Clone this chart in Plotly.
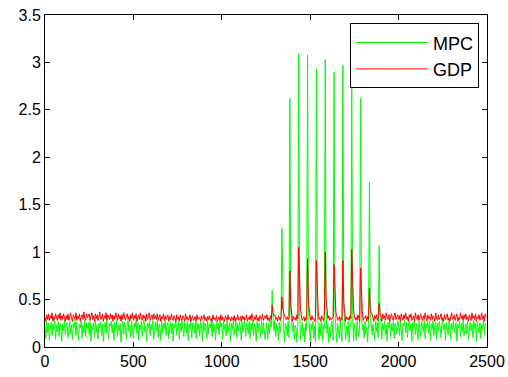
import plotly.graph_objects as go

step = 5  # sample spacing of the listed values

mpc_base = [
    0.22,0.09,0.27,0.15,0.25,0.07,0.21,0.26,0.12,0.24,0.18,0.28,0.08,0.23,0.16,0.27,0.11,0.25,0.20,0.06,0.24,0.17,0.28,0.13,0.22,
    0.26,0.10,0.19,0.27,0.14,0.23,0.08,0.25,0.21,0.28,0.12,0.26,0.17,0.07,0.24,0.20,0.27,0.09,0.23,0.15,0.28,0.11,0.25,0.19,0.26,
    0.13,0.27,0.06,0.22,0.18,0.26,0.10,0.28,0.16,0.23,0.08,0.25,0.20,0.27,0.12,0.24,0.06,0.21,0.26,0.14,0.28,0.18,0.09,0.25,0.22,
    0.27,0.15,0.24,0.07,0.26,0.19,0.28,0.11,0.23,0.17,0.25,0.05,0.22,0.27,0.13,0.26,0.20,0.08,0.24,0.28,0.16,0.23,0.10,0.27,0.18,
    0.09,0.25,0.21,0.28,0.14,0.26,0.07,0.23,0.19,0.27,0.11,0.24,0.28,0.16,0.22,0.06,0.25,0.20,0.27,0.12,0.24,0.18,0.28,0.08,0.23,
    0.26,0.17,0.28,0.10,0.24,0.21,0.07,0.27,0.15,0.25,0.19,0.28,0.12,0.23,0.26,0.09,0.22,0.27,0.14,0.25,0.06,0.24,0.20,0.28,0.13,
    0.21,0.27,0.08,0.25,0.16,0.28,0.20,0.11,0.26,0.23,0.14,0.27,0.07,0.24,0.19,0.28,0.10,0.25,0.22,0.15,0.27,0.09,0.26,0.18,0.24,
    0.12,0.26,0.23,0.06,0.28,0.17,0.25,0.21,0.09,0.27,0.14,0.24,0.20,0.28,0.11,0.26,0.16,0.23,0.07,0.27,0.19,0.25,0.13,0.28,0.21,
    0.25,0.08,0.27,0.18,0.24,0.12,0.28,0.15,0.22,0.26,0.06,0.25,0.19,0.27,0.13,0.23,0.28,0.10,0.24,0.17,0.26,0.21,0.07,0.27,0.15,
    0.23,0.28,0.11,0.26,0.20,0.14,0.27,0.09,0.25,0.18,0.28,0.12,0.24,0.21,0.06,0.27,0.16,0.25,0.22,0.10,0.28,0.14,0.26,0.19,0.08,
    0.19,0.26,0.08,0.24,0.14,0.27,0.21,0.06,0.23,0.17,0.28,0.11,0.25,0.20,0.07,0.26,0.15,0.24,0.09,0.27,0.18,0.05,0.25,0.22,0.12,
    0.27,0.10,0.21,0.06,0.25,0.16,0.26,0.08,0.23,0.19,0.05,0.27,0.13,0.24,0.07,0.22,0.26,0.11,0.20,0.05,0.25,0.17,0.09,0.27,0.14,
    0.06,0.24,0.18,0.27,0.09,0.22,0.05,0.26,0.15,0.21,0.08,0.25,0.12,0.27,0.06,0.23,0.19,0.07,0.26,0.14,0.24,0.05,0.21,0.10,0.27,
    0.23,0.07,0.26,0.13,0.20,0.05,0.25,0.17,0.09,0.27,0.15,0.06,0.24,0.19,0.26,0.08,0.22,0.12,0.27,0.05,0.21,0.25,0.10,0.18,0.06,
    0.25,0.15,0.07,0.27,0.20,0.11,0.24,0.06,0.26,0.18,0.23,0.09,0.27,0.14,0.21,0.05,0.25,0.19,0.08,0.26,0.13,0.24,0.17,0.07,0.27,
    0.16,0.26,0.10,0.24,0.21,0.28,0.08,0.25,0.18,0.27,0.13,0.23,0.06,0.26,0.20,0.28,0.11,0.24,0.17,0.27,0.09,0.25,0.22,0.14,0.28,
    0.24,0.12,0.27,0.19,0.07,0.25,0.22,0.28,0.15,0.26,0.10,0.23,0.27,0.17,0.24,0.06,0.26,0.20,0.28,0.13,0.25,0.18,0.08,0.27,0.21,
    0.11,0.27,0.23,0.16,0.28,0.09,0.25,0.20,0.26,0.14,0.27,0.07,0.24,0.19,0.28,0.12,0.23,0.26,0.08,0.25,0.17,0.27,0.21,0.10,0.26,
    0.28,0.18,0.24,0.07,0.26,0.21,0.13,0.27,0.23,0.09,0.25,0.19,0.28,0.15,0.22,0.26,0.06,0.24,0.20,0.27,0.11,0.25,0.16,0.28,0.12,
    0.20,0.25,0.14,0.27,0.08,0.23,0.26,0.17,0.24,0.10,0.28,0.19,0.25,0.06,0.27,0.21,0.15,0.26,0.09,0.24,0.18,0.28,0.13,0.25,0.22,
]

gdp_base = [
    0.31,0.27,0.34,0.29,0.35,0.28,0.33,0.30,0.36,0.27,0.32,0.29,0.35,0.31,0.28,0.34,0.30,0.36,0.28,0.33,0.29,0.35,0.30,0.27,0.33,
    0.29,0.35,0.28,0.32,0.36,0.30,0.27,0.34,0.31,0.29,0.36,0.28,0.33,0.30,0.35,0.27,0.32,0.34,0.29,0.37,0.30,0.28,0.35,0.31,0.33,
    0.35,0.28,0.31,0.36,0.29,0.33,0.27,0.35,0.30,0.34,0.28,0.32,0.37,0.29,0.31,0.35,0.27,0.33,0.30,0.36,0.28,0.34,0.31,0.29,0.35,
    0.30,0.34,0.27,0.33,0.29,0.36,0.31,0.28,0.35,0.30,0.33,0.27,0.34,0.29,0.36,0.31,0.28,0.33,0.35,0.29,0.32,0.27,0.34,0.30,0.36,
    0.28,0.33,0.30,0.35,0.27,0.32,0.34,0.29,0.36,0.31,0.28,0.34,0.30,0.33,0.27,0.35,0.29,0.32,0.36,0.28,0.31,0.34,0.29,0.35,0.30,
    0.33,0.29,0.35,0.28,0.31,0.34,0.27,0.32,0.30,0.35,0.28,0.33,0.29,0.31,0.34,0.27,0.32,0.29,0.35,0.30,0.28,0.33,0.31,0.27,0.34,
    0.29,0.32,0.27,0.34,0.30,0.28,0.33,0.31,0.27,0.35,0.29,0.32,0.28,0.30,0.34,0.27,0.31,0.33,0.28,0.30,0.32,0.27,0.34,0.29,0.31,
    0.31,0.27,0.33,0.29,0.30,0.34,0.28,0.31,0.27,0.32,0.29,0.33,0.28,0.30,0.27,0.34,0.29,0.31,0.28,0.33,0.27,0.30,0.32,0.28,0.34,
    0.28,0.32,0.29,0.27,0.33,0.30,0.28,0.34,0.29,0.31,0.27,0.32,0.30,0.28,0.33,0.27,0.31,0.29,0.34,0.28,0.30,0.32,0.27,0.33,0.29,
    0.32,0.28,0.30,0.34,0.27,0.31,0.29,0.33,0.28,0.35,0.30,0.27,0.32,0.29,0.34,0.28,0.31,0.27,0.33,0.30,0.29,0.35,0.28,0.31,0.33,
    0.30,0.34,0.28,0.31,0.27,0.33,0.29,0.32,0.30,0.28,0.34,0.29,0.31,0.27,0.33,0.30,0.28,0.32,0.29,0.31,0.27,0.33,0.30,0.29,0.32,
    0.29,0.31,0.28,0.33,0.30,0.27,0.32,0.29,0.31,0.28,0.34,0.30,0.27,0.31,0.29,0.33,0.28,0.30,0.32,0.27,0.31,0.29,0.33,0.28,0.30,
    0.31,0.28,0.33,0.29,0.30,0.27,0.32,0.30,0.28,0.34,0.29,0.31,0.27,0.33,0.30,0.28,0.32,0.29,0.31,0.27,0.30,0.33,0.28,0.31,0.29,
    0.30,0.32,0.27,0.31,0.29,0.33,0.28,0.30,0.32,0.27,0.31,0.29,0.34,0.28,0.30,0.27,0.32,0.29,0.31,0.28,0.33,0.30,0.27,0.32,0.29,
    0.33,0.29,0.31,0.28,0.34,0.30,0.27,0.32,0.29,0.35,0.28,0.31,0.30,0.33,0.27,0.32,0.29,0.34,0.30,0.28,0.35,0.31,0.27,0.33,0.30,
    0.34,0.28,0.32,0.36,0.29,0.31,0.27,0.35,0.30,0.33,0.28,0.36,0.31,0.29,0.34,0.27,0.32,0.35,0.30,0.28,0.33,0.36,0.29,0.31,0.34,
    0.29,0.33,0.27,0.35,0.31,0.28,0.34,0.30,0.36,0.29,0.32,0.27,0.34,0.31,0.35,0.28,0.30,0.33,0.27,0.36,0.31,0.29,0.34,0.28,0.32,
    0.35,0.30,0.28,0.33,0.29,0.36,0.31,0.27,0.34,0.30,0.32,0.28,0.35,0.29,0.33,0.31,0.27,0.36,0.30,0.28,0.34,0.29,0.32,0.35,0.28,
    0.31,0.27,0.34,0.29,0.32,0.35,0.28,0.31,0.27,0.33,0.36,0.29,0.30,0.34,0.28,0.32,0.35,0.27,0.31,0.29,0.36,0.30,0.33,0.28,0.34,
    0.30,0.35,0.29,0.32,0.27,0.34,0.31,0.28,0.36,0.30,0.33,0.29,0.35,0.27,0.32,0.30,0.34,0.28,0.31,0.36,0.29,0.33,0.27,0.35,0.31,
]

# pulse events (sample index in the listed series) and their heights
spike_idx = [257, 268, 277, 287, 297, 307, 317, 327, 337, 347, 357, 367, 378]
mpc_peak  = [0.60, 1.25, 2.62, 3.09, 3.08, 2.93, 3.03, 2.90, 2.97, 2.78, 2.62, 1.74, 1.07]
mpc_tail  = [0.30, 0.34, 0.38, 0.40, 0.40, 0.39, 0.40, 0.39, 0.40, 0.38, 0.37, 0.34, 0.30]
gdp_peak  = [0.44, 0.53, 0.80, 1.05, 0.93, 0.91, 1.00, 0.87, 0.91, 1.03, 0.83, 0.62, 0.46]
gdp_tail  = [0.36, 0.40, 0.45, 0.52, 0.48, 0.47, 0.50, 0.46, 0.47, 0.52, 0.45, 0.40, 0.36]
gdp_tail2 = [0.33, 0.35, 0.37, 0.40, 0.38, 0.38, 0.39, 0.37, 0.38, 0.40, 0.37, 0.35, 0.33]

mpc = list(mpc_base)
gdp = list(gdp_base)
for k, i in enumerate(spike_idx):
    if i < len(mpc):
        mpc[i] = mpc_peak[k]
        if i + 1 < len(mpc):
            mpc[i + 1] = mpc_tail[k]
    if i < len(gdp):
        gdp[i] = gdp_peak[k]
        if i + 1 < len(gdp):
            gdp[i + 1] = gdp_tail[k]
        if i + 2 < len(gdp):
            gdp[i + 2] = gdp_tail2[k]

x_mpc = [step * i for i in range(len(mpc))]
x_gdp = [step * i for i in range(len(gdp))]

fig = go.Figure()
fig.add_trace(go.Scatter(x=x_mpc, y=mpc, mode="lines", name="MPC",
                         line=dict(color="#00ff00", width=1)))
fig.add_trace(go.Scatter(x=x_gdp, y=gdp, mode="lines", name="GDP",
                         line=dict(color="#ff0000", width=1)))

axis_common = dict(showline=True, linecolor="black", linewidth=1, mirror="ticks",
                   ticks="inside", ticklen=5, tickcolor="black", showgrid=False,
                   zeroline=False, automargin=False,
                   tickfont=dict(size=16, color="black"))

fig.update_xaxes(range=[0, 2500], tickvals=[0, 500, 1000, 1500, 2000, 2500], **axis_common)
fig.update_yaxes(range=[0, 3.5], tickvals=[0, 0.5, 1, 1.5, 2, 2.5, 3, 3.5],
                 ticktext=["0", "0.5", "1", "1.5", "2", "2.5", "3", "3.5"], **axis_common)

fig.update_layout(
    width=508, height=377,
    margin=dict(l=45, r=21, t=15, b=30, autoexpand=False),
    paper_bgcolor="white", plot_bgcolor="white",
    font=dict(family="Liberation Sans, Arial, Helvetica, sans-serif", color="black"),
    showlegend=True,
    legend=dict(x=0.982, y=0.975, xanchor="right", yanchor="top",
                bgcolor="white", bordercolor="black", borderwidth=1,
                font=dict(size=18, color="black"), itemwidth=72,
                tracegroupgap=0),
)

fig.write_html("out.html",
               config={"displayModeBar": False},
               post_script="document.body.style.margin='0';document.body.style.overflow='hidden';")
